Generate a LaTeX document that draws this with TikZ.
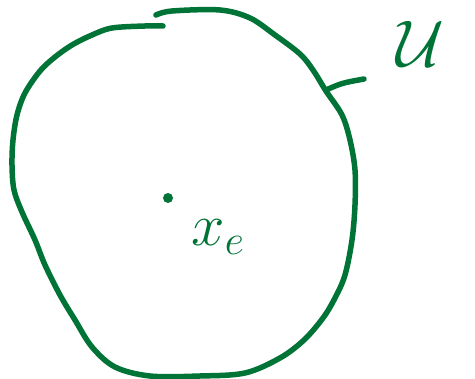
\RequirePackage{fix-cm}
\documentclass[tikz,border=0pt]{standalone}
\usepackage{xcolor}
\definecolor{ink}{RGB}{0,115,55}
\begin{document}
\begin{tikzpicture}[x=1pt,y=-1pt,
  stroke/.style={draw=ink,line width=5.5pt,line cap=round,line join=round},
  lbl/.style={text=ink,inner sep=0pt}]
\useasboundingbox (0,0) rectangle (475,379);
% closed region (drawn with a small gap at the top)
\draw[stroke] plot[smooth,tension=0.55] coordinates {
 (156,15) (172,11) (220,10) (250,18) (275,35) (300,54) (313,70) (326,91)
 (342,115) (350,140) (355,170) (355,205) (352,240) (345,275) (335,298)
 (323,318) (304,340) (280,358) (245,373) (200,376) (150,376) (115,367)
 (92,347) (75,320) (60,295) (45,265) (35,240) (22,212) (14,190)
 (12,165) (13,140) (17,115) (25,93) (40,71) (55,57) (72,45) (92,35)
 (112,28) (145,26) (163,26)};
\coordinate (attach) at (326,90);
\node[lbl,font=\fontsize{66}{68}\selectfont] (U) at (420,44) {$\mathcal{U}$};
\draw[stroke] (attach) .. controls (342,83) .. (364,79);
\fill[ink] (168,198) circle (5pt);
\node[lbl,font=\fontsize{60}{62}\selectfont] (xe) at (218,237) {$x_e$};
\end{tikzpicture}
\end{document}
